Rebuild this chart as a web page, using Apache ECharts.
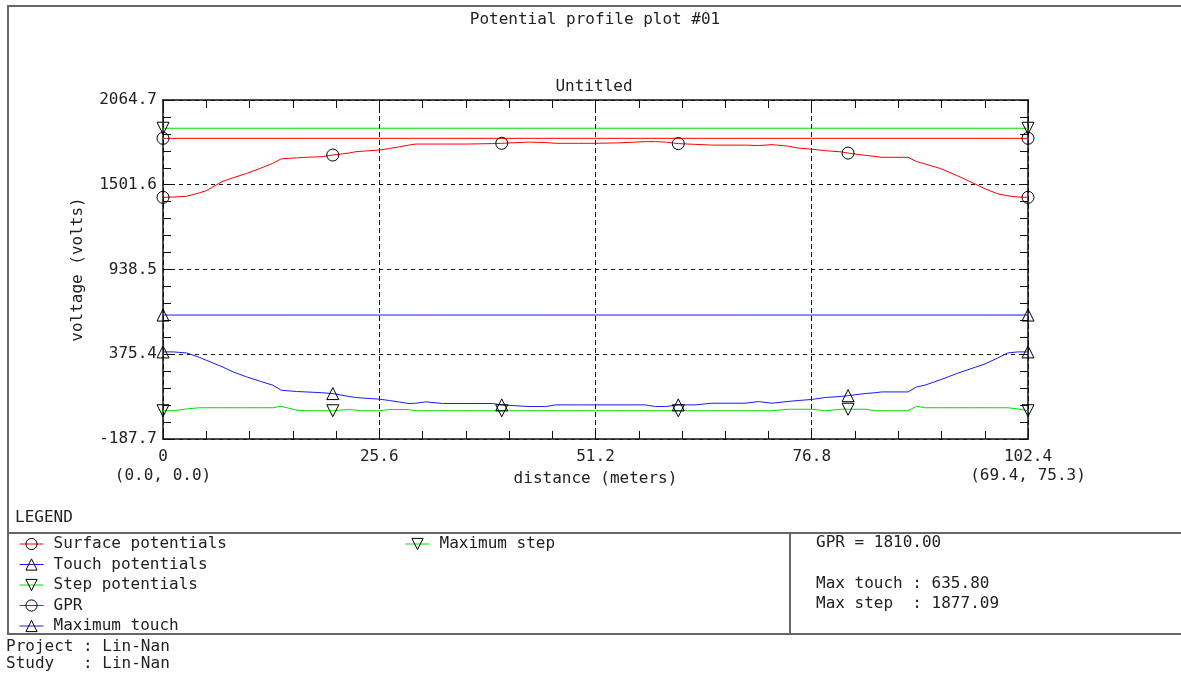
<!DOCTYPE html>
<html lang="en">
<head>
<meta charset="UTF-8">
<title>Potential profile plot #01</title>
<script src="https://cdn.jsdelivr.net/npm/echarts@6/dist/echarts.min.js"></script>
<style>html,body{margin:0;padding:0;background:#fff;}</style>
</head>
<body>
<div id="profile" style="width:1181px;height:675px;"></div>
<script type="text/javascript">
    // distance along the profile (meters) and the three computed profiles (volts)
    var distance = [0, 1.2, 2.8, 4.3, 5.1, 7.1, 8.3, 9.9, 11.5, 13.0, 14.0, 15.8, 16.9, 18.8, 20.1, 22.0,
        22.8, 23.2, 25.6, 26.8, 28.0, 29.1, 29.9, 31.1, 33.1, 36.0, 39.0, 40.1, 43.3, 45.3, 46.5, 49.2,
        51.2, 54.0, 57.1, 58.3, 59.5, 61.0, 63.0, 65.0, 68.9, 70.5, 72.1, 74.0, 75.2, 76.8, 78.4, 80.3,
        81.1, 83.1, 84.3, 85.1, 88.2, 89.2, 90.2, 92.0, 94.1, 96.2, 97.3, 98.8, 100.0, 101.2, 102.4];
    var surface = [1418, 1420, 1425, 1448, 1462, 1525, 1548, 1577, 1610, 1644, 1674, 1680, 1684, 1688, 1699, 1712,
        1721, 1723, 1732, 1742, 1754, 1765, 1772, 1772, 1772, 1772, 1775, 1777, 1785, 1782, 1777, 1777,
        1777, 1780, 1788, 1788, 1785, 1775, 1770, 1765, 1765, 1762, 1768, 1758, 1745, 1738, 1728, 1720,
        1712, 1697, 1690, 1684, 1684, 1656, 1640, 1610, 1560, 1505, 1475, 1442, 1428, 1420, 1418];
    var touch = [391, 391, 384, 355, 336, 290, 258, 225, 196, 170, 136, 128, 125, 120, 114, 95,
        88, 86, 77, 68, 58, 48, 50, 59, 48, 48, 48, 39, 28, 28, 39, 39,
        39, 39, 39, 28, 28, 39, 39, 50, 50, 61, 50, 62, 68, 75, 88, 95,
        100, 114, 120, 125, 125, 158, 170, 205, 250, 290, 311, 350, 384, 391, 391];
    var step = [0, 0, 12, 20, 20, 20, 20, 20, 20, 20, 30, 4, 0, 0, 0, 8,
        4, 0, 0, 8, 8, 8, 0, 0, 0, 0, 0, 0, 0, 0, 0, 0,
        0, 0, 0, 0, 0, 0, 0, 0, 0, 0, 0, 10, 10, 10, 0, 10,
        10, 10, 0, 0, 0, 30, 20, 20, 20, 20, 20, 20, 20, 12, 0];

    var gpr = 1810.00;
    var maxTouch = 635.80;
    var maxStep = 1877.09;

    var markerAt = [0, 20.1, 40.1, 61.0, 81.1, 102.4];
    var xTicks = [0, 25.6, 51.2, 76.8, 102.4];
    var yTicks = [-187.7, 375.4, 938.5, 1501.6, 2064.7];
    var startCoord = '(0.0, 0.0)';
    var endCoord = '(69.4, 75.3)';

    var FONT = '"DejaVu Sans Mono", "Liberation Mono", monospace';
    var INK = '#222';

    var chart = echarts.init(document.getElementById('profile'));

    var xMin = xTicks[0], xMax = xTicks[xTicks.length - 1];
    var xStep = Math.round((xTicks[1] - xTicks[0]) * 10) / 10;
    var yMin = yTicks[0], yMax = yTicks[yTicks.length - 1];
    var yStep = Math.round((yTicks[1] - yTicks[0]) * 10) / 10;

    function profile(values) {
        return distance.map(function (d, i) {
            var item = {value: [d, values[i]]};
            if (markerAt.indexOf(d) < 0) item.symbol = 'none';
            return item;
        });
    }

    function flat(v) {
        return [[xMin, v], [xMax, v]];
    }

    function lineSeries(name, data, color, symbol, rotate) {
        return {
            name: name,
            type: 'line',
            data: data,
            symbol: symbol,
            symbolSize: 12,
            symbolRotate: rotate || 0,
            showSymbol: true,
            clip: false,
            animation: false,
            lineStyle: {color: color, width: 1},
            itemStyle: {color: 'rgba(0,0,0,0)', borderColor: '#000', borderWidth: 1},
            emphasis: {disabled: true}
        };
    }

    var tickStyle = {color: '#111', width: 1};

    function xAxis(pos, main) {
        return {
            type: 'value', position: pos, min: xMin, max: xMax, interval: xStep,
            axisLine: {show: true, onZero: false, lineStyle: {color: '#111', width: 1.5}},
            axisTick: {show: true, inside: true, length: 8, lineStyle: tickStyle},
            minorTick: {show: true, splitNumber: 5, length: 8, lineStyle: tickStyle},
            splitLine: {show: main, lineStyle: {color: '#111', type: [5, 3], width: 1}},
            axisLabel: {
                show: main, margin: 8, color: INK, fontFamily: FONT, fontSize: 16, lineHeight: 19,
                showMinLabel: true, showMaxLabel: true,
                formatter: function (v) {
                    var s = v === 0 ? '0' : v.toFixed(1);
                    if (Math.abs(v - xMin) < 1e-6) s += '\n' + startCoord;
                    if (Math.abs(v - xMax) < 1e-6) s += '\n' + endCoord;
                    return s;
                }
            },
            name: main ? 'distance (meters)' : '',
            nameLocation: 'middle',
            nameGap: 32,
            nameMoveOverlap: false,
            nameTextStyle: {color: INK, fontFamily: FONT, fontSize: 16}
        };
    }

    function yAxis(pos, main) {
        return {
            type: 'value', position: pos, min: yMin, max: yMax, interval: yStep,
            axisLine: {show: true, onZero: false, lineStyle: {color: '#111', width: 1.5}},
            axisTick: {show: true, inside: true, length: 8, lineStyle: tickStyle},
            minorTick: {show: true, splitNumber: 5, length: 8, lineStyle: tickStyle},
            splitLine: {show: main, lineStyle: {color: '#111', type: [4, 4], width: 1}},
            axisLabel: {
                show: main, margin: 6, color: INK, fontFamily: FONT, fontSize: 16,
                showMinLabel: true, showMaxLabel: true,
                formatter: function (v) { return v.toFixed(1); }
            },
            name: main ? 'voltage (volts)' : '',
            nameLocation: 'middle',
            nameGap: 77,
            nameMoveOverlap: false,
            nameTextStyle: {color: INK, fontFamily: FONT, fontSize: 16}
        };
    }

    var legendBase = {
        orient: 'vertical',
        padding: 0,
        itemWidth: 24,
        itemHeight: 14,
        itemGap: 4.5,
        selectedMode: false,
        itemStyle: {borderWidth: 1},
        lineStyle: {width: 1},
        textStyle: {color: INK, fontFamily: FONT, fontSize: 16, lineHeight: 16, padding: [0, 0, 0, 5]}
    };

    var option = {
        animation: false,
        backgroundColor: '#fff',
        textStyle: {fontFamily: FONT},
        title: [
            {text: 'Potential profile plot #01', left: 590, top: 7, textAlign: 'center',
                textStyle: {color: INK, fontFamily: FONT, fontSize: 16, fontWeight: 'normal'}},
            {text: 'Untitled', left: 589, top: 74, textAlign: 'center',
                textStyle: {color: INK, fontFamily: FONT, fontSize: 16, fontWeight: 'normal'}}
        ],
        legend: [
            echarts.util.extend({
                left: 19, top: 536,
                data: ['Surface potentials', 'Touch potentials', 'Step potentials', 'GPR', 'Maximum touch']
            }, legendBase),
            echarts.util.extend({
                left: 405, top: 536,
                data: ['Maximum step']
            }, legendBase)
        ],
        grid: {left: 163, right: 153, top: 100, bottom: 236, outerBoundsMode: 'none'},
        xAxis: [xAxis('bottom', true), xAxis('top', false)],
        yAxis: [yAxis('left', true), yAxis('right', false)],
        series: [
            lineSeries('Surface potentials', profile(surface), '#ff0000', 'circle'),
            lineSeries('Touch potentials', profile(touch), '#1a1aff', 'triangle'),
            lineSeries('Step potentials', profile(step), '#00e000', 'triangle', 180),
            lineSeries('GPR', flat(gpr), '#ff0000', 'circle'),
            lineSeries('Maximum touch', flat(maxTouch), '#1a1aff', 'triangle'),
            lineSeries('Maximum step', flat(maxStep), '#00e000', 'triangle', 180)
        ],
        graphic: [
            {type: 'rect', silent: true, shape: {x: 8, y: 6, width: 1220, height: 628},
                style: {fill: 'none', stroke: '#666', lineWidth: 2}},
            {type: 'line', silent: true, shape: {x1: 8, y1: 533, x2: 1181, y2: 533},
                style: {stroke: '#666', lineWidth: 2}},
            {type: 'line', silent: true, shape: {x1: 790, y1: 533, x2: 790, y2: 634},
                style: {stroke: '#666', lineWidth: 2}},
            {type: 'text', silent: true, x: 15, y: 518,
                style: {text: 'LEGEND', font: '16px ' + FONT, fill: INK, verticalAlign: 'middle'}},
            {type: 'text', silent: true, x: 816, y: 543,
                style: {text: 'GPR = ' + gpr.toFixed(2), font: '16px ' + FONT, fill: INK, verticalAlign: 'middle'}},
            {type: 'text', silent: true, x: 816, y: 584,
                style: {text: 'Max touch : ' + maxTouch.toFixed(2), font: '16px ' + FONT, fill: INK, verticalAlign: 'middle'}},
            {type: 'text', silent: true, x: 816, y: 604,
                style: {text: 'Max step  : ' + maxStep.toFixed(2), font: '16px ' + FONT, fill: INK, verticalAlign: 'middle'}},
            {type: 'text', silent: true, x: 6, y: 647,
                style: {text: 'Project : Lin-Nan', font: '16px ' + FONT, fill: INK, verticalAlign: 'middle'}},
            {type: 'text', silent: true, x: 6, y: 664,
                style: {text: 'Study   : Lin-Nan', font: '16px ' + FONT, fill: INK, verticalAlign: 'middle'}}
        ]
    };

    chart.setOption(option);
</script>
</body>
</html>
